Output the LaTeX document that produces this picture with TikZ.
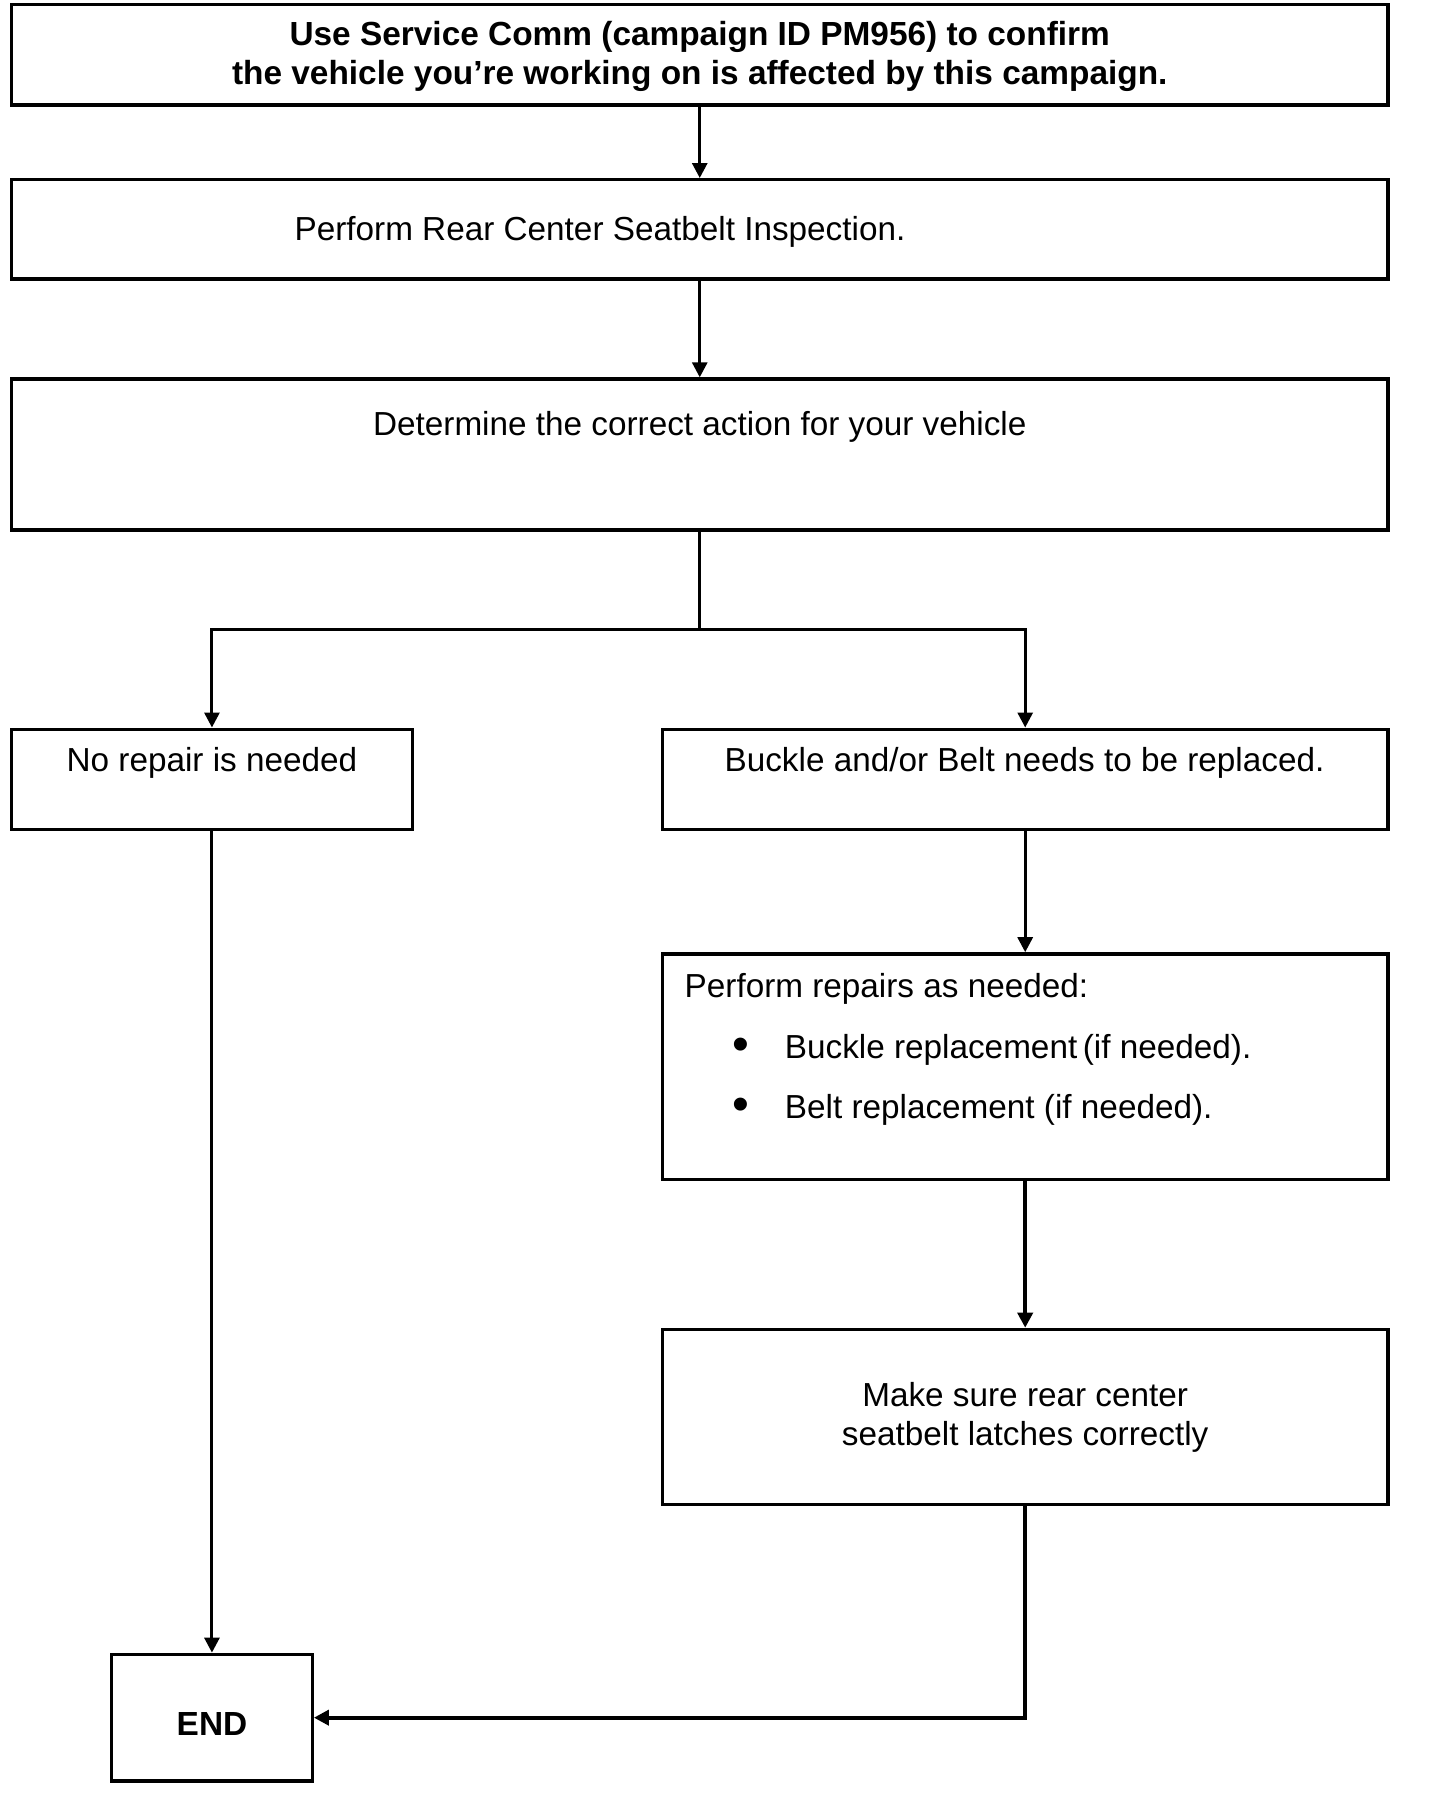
\documentclass[tikz,border=0pt]{standalone}
\usepackage{fontspec}
\setmainfont{Liberation Sans}
\usetikzlibrary{fit,arrows.meta}
\tikzset{
  box/.style={draw=black, line width=1.7pt, rectangle, inner sep=0pt},
  lbl/.style={inner sep=0pt, font=\fontsize{16.65}{19.8}\selectfont},
  boldlbl/.style={lbl, font=\fontsize{16.7}{19.6}\selectfont\bfseries},
  bul/.style={inner sep=0pt, font=\fontsize{24}{24}\selectfont},
  thin/.style={line width=1.5pt},
  thick/.style={line width=2.1pt},
  arr/.style={-{Triangle[length=7.5pt,width=7.5pt]}},
}
\begin{document}
\begin{tikzpicture}[x=0.5pt,y=-0.5pt]
\useasboundingbox (0,0) rectangle (1440,1806);
% boxes
\node[box, fit={(11.5,4.6) (1388,104.8)}] (b1) {};
\node[box, fit={(11.5,179.7) (1388,278.8)}] (b2) {};
\node[box, fit={(11.5,379) (1388,530)}] (b3) {};
\node[box, fit={(11.5,729.2) (412.4,829.4)}] (nr) {};
\node[box, fit={(662.4,729.2) (1388,829.4)}] (bk) {};
\node[box, fit={(662.4,953.9) (1388,1179.6)}] (pr) {};
\node[box, fit={(662.4,1329.4) (1388,1504.5)}] (ms) {};
\node[box, fit={(111.7,1654.3) (312.2,1781)}] (en) {};
% texts
\node[boldlbl, align=center] (t1) at (699.75,56.6) {Use Service Comm (campaign ID PM956) to confirm\\the vehicle you’re working on is affected by this campaign.};
\node[lbl] (t2) at (600,231.7) {Perform Rear Center Seatbelt Inspection.};
\node[lbl] (t3) at (699.75,426.4) {Determine the correct action for your vehicle};
\node[lbl] (t4) at (212,762.8) {No repair is needed};
\node[lbl] (t5) at (1024.5,762.8) {Buckle and/or Belt needs to be replaced.};
\node[lbl, anchor=west] (t6) at (684.3,988.6) {Perform repairs as needed:};
\node[bul] (d1) at (740.7,1049.7) {•};
\node[lbl, anchor=west] (t7) at (784.5,1049.7) {Buckle replacement\,(if needed).};
\node[bul] (d2) at (740.7,1109.6) {•};
\node[lbl, anchor=west] (t8) at (784.5,1109.6) {Belt replacement (if needed).};
\node[lbl, align=center] (t9) at (1025.2,1417.2) {Make sure rear center\\seatbelt latches correctly};
\node[boldlbl] (t10) at (212,1723.6) {END};
% connectors
\coordinate (split) at (699.75,629);
\draw[thin, arr] (b1) -- (b2);
\draw[thin, arr] (b2) -- (b3);
\draw[thin] (b3.south) -- (split);
\draw[thin, arr] (split) -| (nr.north);
\draw[thin, arr] (split) -| (bk.north);
\draw[thin, arr] (bk) -- (pr);
\draw[thick, arr] (pr) -- (ms);
\draw[thin, arr] (nr) -- (en);
\draw[thick, arr] (ms.south) |- (en.east);
\end{tikzpicture}
\end{document}
